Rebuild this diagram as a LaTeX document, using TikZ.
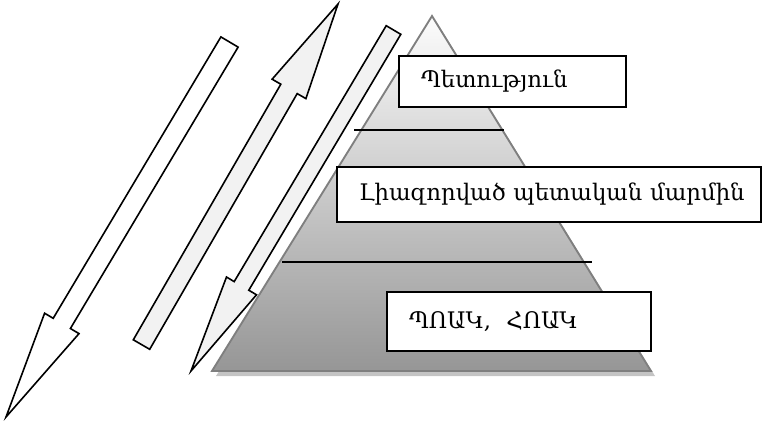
\documentclass[tikz,border=0pt]{standalone}
\usepackage{fontspec}
\setmainfont{DejaVu Serif}
\usetikzlibrary{positioning}
\definecolor{edgegray}{HTML}{7F7F7F}
\definecolor{arrowbg}{HTML}{F2F2F2}
\definecolor{shadowgray}{HTML}{C4C4C4}
\definecolor{pyrtop}{HTML}{FCFCFC}
\definecolor{pyrbot}{HTML}{969696}
\tikzset{
  layerbox/.style={draw=black, line width=1.2pt, fill=white, align=left,
                   font=\fontsize{17.1}{20}\selectfont, inner xsep=16.5pt, inner ysep=0pt},
  blockarrow/.style={draw=black, line width=1.2pt, line join=miter},
  divider/.style={draw=black, line width=1.1pt},
}

\begin{document}
\begin{tikzpicture}[x=0.75pt, y=-0.75pt]
  \useasboundingbox (0,0) rectangle (762,422);
  % pyramid with its shadow
  \coordinate (apex) at (432,16);
  \coordinate (baseL) at (212,371);
  \coordinate (baseR) at (651,371);
  \fill[shadowgray] ([shift={(4,5)}]apex) -- ([shift={(4,5)}]baseR) -- ([shift={(4,5)}]baseL) -- cycle;
  \draw[edgegray, line width=1.4pt, top color=pyrtop, bottom color=pyrbot]
        (apex) -- (baseR) -- (baseL) -- cycle;
  \draw[divider] (354,130) -- (504,130);
  \draw[divider] (282,262) -- (592,262);
  % labels of the levels
  \node[layerbox, minimum width=170.25pt, minimum height=38.25pt, text width=137.25pt]
        (gov) at (512.5,81.5) {Պետություն};
  \node[layerbox, minimum width=318pt, minimum height=41.25pt, text width=285pt]
        (auth) at (549,194.5) {\mbox{Լիազորված պետական մարմին}};
  \node[layerbox, minimum width=198pt, minimum height=44.25pt, text width=165pt]
        (orgs) at (519,321.5) {ՊՈԱԿ,\ \ ՀՈԱԿ};
  % block arrows
  \draw[blockarrow, fill=white] (220.9,36.9) -- (238.1,47.1) -- (70.4,328.5) -- (79.0,333.6)
        -- (6,417) -- (44.6,313.2) -- (53.2,318.3) -- cycle;
  \draw[blockarrow, fill=arrowbg] (133.3,339.8) -- (149.7,349.3) -- (297.2,93.6) -- (305.9,98.6)
        -- (338,4) -- (272.1,79.2) -- (280.8,84.2) -- cycle;
  \draw[blockarrow, fill=arrowbg] (386.2,25.7) -- (400.8,34.3) -- (248.8,290.2) -- (256.5,294.8)
        -- (191,371) -- (226.5,277.0) -- (234.2,281.6) -- cycle;
\end{tikzpicture}
\end{document}
